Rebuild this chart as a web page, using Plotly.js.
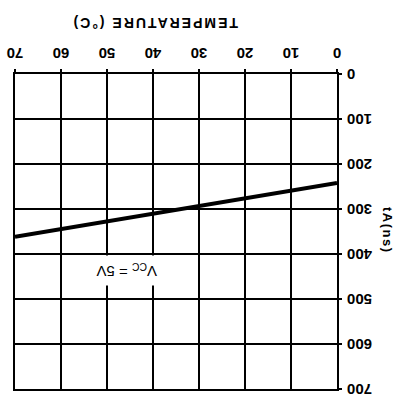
<!DOCTYPE html>
<html>
<head>
<meta charset="utf-8">
<script src="https://cdn.plot.ly/plotly-3.0.1.min.js"></script>
<style>
html,body{margin:0;padding:0;background:#fff;overflow:hidden;}
#chart{width:407px;height:406px;transform:rotate(180deg);transform-origin:50% 50%;}
#chart .annotation-text.spaced{letter-spacing:2px;}
#chart .annotation-text.spaced2{letter-spacing:1.5px;}
</style>
</head>
<body>
<div id="chart"></div>
<script>
// Data (the reference is printed upside down;
// the chart is drawn upright and the whole page is turned 180°)
const temperature = [0, 70];          // °C
const accessTime = [242, 362];        // tA (ns)
const xTicks = [0, 10, 20, 30, 40, 50, 60, 70];
const yTicks = [0, 100, 200, 300, 400, 500, 600, 700];

const font = 'Liberation Sans, Arial, sans-serif';
const W = 407, H = 406, L = 70, R = 15, T = 17, B = 74;
const pw = W - L - R, ph = H - T - B;

const trace = {
  x: temperature,
  y: accessTime,
  mode: 'lines',
  line: {color: '#000', width: 4},
  hoverinfo: 'skip',
  showlegend: false
};

const layout = {
  width: W, height: H,
  margin: {l: L, r: R, t: T, b: B},
  paper_bgcolor: '#fff', plot_bgcolor: '#fff',
  xaxis: {
    range: [0, 70],
    tickvals: xTicks, ticktext: xTicks.map(String),
    tickfont: {family: font, size: 15, color: '#000', weight: 'bold'},
    ticklabelstandoff: 3,
    showgrid: true, gridcolor: '#000', gridwidth: 2,
    showline: true, linecolor: '#000', linewidth: 2, mirror: true,
    ticks: 'outside', ticklen: 3, tickwidth: 1.5, tickcolor: '#000',
    zeroline: false, fixedrange: true
  },
  yaxis: {
    range: [0, 700],
    tickvals: yTicks, ticktext: yTicks.map(String),
    tickfont: {family: font, size: 15, color: '#000', weight: 'bold'},
    ticklabelstandoff: 2,
    showgrid: true, gridcolor: '#000', gridwidth: 2,
    showline: true, linecolor: '#000', linewidth: 2, mirror: true,
    ticks: 'outside', ticklen: 3, tickwidth: 1.5, tickcolor: '#000',
    zeroline: false, fixedrange: true
  },
  annotations: [
    {text: 'TEMPERATURE (°C)', xref: 'paper', yref: 'paper',
     x: (252 - L) / pw, y: -(393 - (H - B)) / ph, showarrow: false,
     font: {family: font, size: 14, color: '#000', weight: 'bold'}},
    {text: 'tA(ns)', xref: 'paper', yref: 'paper',
     x: -(L - 10) / pw, y: 1 - (176 - T) / ph, showarrow: false, textangle: -90,
     font: {family: font, size: 13, color: '#000', weight: 'bold'}},
    {text: 'V<sub>CC</sub> = 5V', xref: 'paper', yref: 'paper',
     x: (317 - L) / pw, y: 1 - (135 - T) / ph, showarrow: false,
     bgcolor: '#fff', borderpad: 5,
     font: {family: font, size: 15, color: '#000'}}
  ]
};

Plotly.newPlot('chart', [trace], layout, {displayModeBar: false, staticPlot: true}).then(function () {
  const t = document.querySelectorAll('#chart .annotation-text');
  if (t[0]) t[0].classList.add('spaced');
  if (t[1]) t[1].classList.add('spaced2');
});
</script>
</body>
</html>
